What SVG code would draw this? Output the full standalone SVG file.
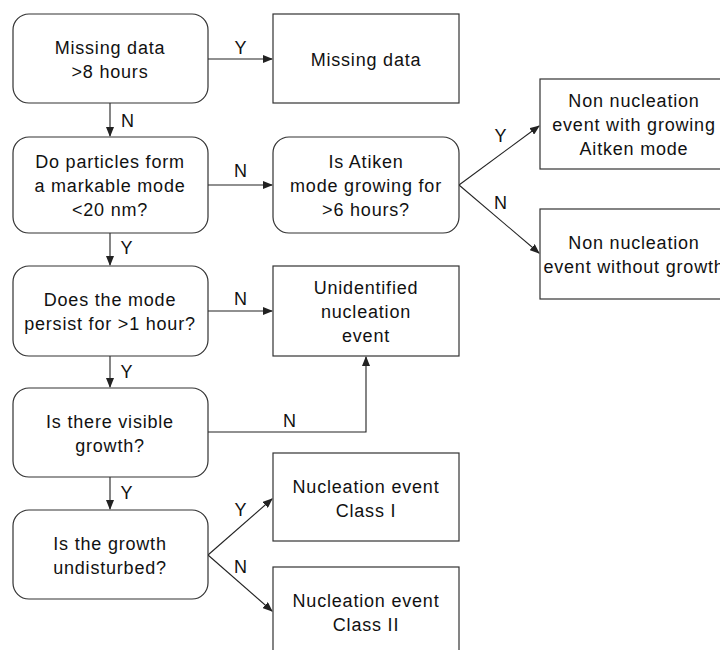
<svg xmlns="http://www.w3.org/2000/svg" width="720" height="650" viewBox="0 0 720 650">
<style>
.box{fill:#fff;stroke:#333;stroke-width:1.2}
.t{font-family:"Liberation Sans",Arial,sans-serif;font-size:18px;letter-spacing:0.8px;fill:#111;text-anchor:middle}
.c{fill:none;stroke:#222;stroke-width:1.1}
</style>
<defs>
<marker id="ah" markerUnits="userSpaceOnUse" markerWidth="10" markerHeight="8" refX="9" refY="4" orient="auto">
<path d="M0,0 L10,4 L0,8 Z" fill="#222"/>
</marker>
</defs>
<rect width="720" height="650" fill="#fff"/>
<g id="connectors">
<path class="c" d="M208,59 H272" marker-end="url(#ah)"/>
<path class="c" d="M110,103 V136" marker-end="url(#ah)"/>
<path class="c" d="M208,185 H272" marker-end="url(#ah)"/>
<path class="c" d="M459,185 L539,126" marker-end="url(#ah)"/>
<path class="c" d="M459,185 L539,253" marker-end="url(#ah)"/>
<path class="c" d="M110,233 V265" marker-end="url(#ah)"/>
<path class="c" d="M208,311 H272" marker-end="url(#ah)"/>
<path class="c" d="M110,356 V387" marker-end="url(#ah)"/>
<path class="c" d="M208,432 H366 V357" marker-end="url(#ah)"/>
<path class="c" d="M110,477 V509" marker-end="url(#ah)"/>
<path class="c" d="M208,555 L272,499" marker-end="url(#ah)"/>
<path class="c" d="M208,555 L272,611" marker-end="url(#ah)"/>
<text class="t" x="241" y="54">Y</text>
<text class="t" x="128" y="127">N</text>
<text class="t" x="241" y="177">N</text>
<text class="t" x="501" y="142">Y</text>
<text class="t" x="501" y="209">N</text>
<text class="t" x="127" y="254">Y</text>
<text class="t" x="241" y="305">N</text>
<text class="t" x="127" y="378">Y</text>
<text class="t" x="290" y="427">N</text>
<text class="t" x="127" y="499">Y</text>
<text class="t" x="241" y="516">Y</text>
<text class="t" x="241" y="573">N</text>
</g>
<g id="n1">
<rect class="box" x="13" y="14" width="195" height="89" rx="16"/>
<text class="t" x="110" y="54">Missing data</text>
<text class="t" x="110" y="78">&gt;8 hours</text>
</g>
<g id="n2">
<rect class="box" x="273" y="14" width="186" height="89"/>
<text class="t" x="366" y="66">Missing data</text>
</g>
<g id="n3">
<rect class="box" x="13" y="137" width="195" height="96" rx="16"/>
<text class="t" x="110" y="168">Do particles form</text>
<text class="t" x="110" y="192">a markable mode</text>
<text class="t" x="110" y="216">&lt;20 nm?</text>
</g>
<g id="n4">
<rect class="box" x="273" y="137" width="186" height="96" rx="16"/>
<text class="t" x="366" y="168">Is Atiken</text>
<text class="t" x="366" y="192">mode growing for</text>
<text class="t" x="366" y="216">&gt;6 hours?</text>
</g>
<g id="n5">
<rect class="box" x="540" y="79" width="190" height="90"/>
<text class="t" x="634" y="107">Non nucleation</text>
<text class="t" x="634" y="131">event with growing</text>
<text class="t" x="634" y="155">Aitken mode</text>
</g>
<g id="n6">
<rect class="box" x="540" y="209" width="190" height="90"/>
<text class="t" x="634" y="249">Non nucleation</text>
<text class="t" x="634" y="273">event without growth</text>
</g>
<g id="n7">
<rect class="box" x="13" y="266" width="195" height="90" rx="16"/>
<text class="t" x="110" y="306">Does the mode</text>
<text class="t" x="110" y="330">persist for &gt;1 hour?</text>
</g>
<g id="n8">
<rect class="box" x="273" y="266" width="186" height="90"/>
<text class="t" x="366" y="294">Unidentified</text>
<text class="t" x="366" y="318">nucleation</text>
<text class="t" x="366" y="342">event</text>
</g>
<g id="n9">
<rect class="box" x="13" y="388" width="195" height="89" rx="16"/>
<text class="t" x="110" y="428">Is there visible</text>
<text class="t" x="110" y="452">growth?</text>
</g>
<g id="n10">
<rect class="box" x="13" y="510" width="195" height="89" rx="16"/>
<text class="t" x="110" y="550">Is the growth</text>
<text class="t" x="110" y="574">undisturbed?</text>
</g>
<g id="n11">
<rect class="box" x="273" y="453" width="186" height="88"/>
<text class="t" x="366" y="493">Nucleation event</text>
<text class="t" x="366" y="517">Class I</text>
</g>
<g id="n12">
<rect class="box" x="273" y="567" width="186" height="92"/>
<text class="t" x="366" y="607">Nucleation event</text>
<text class="t" x="366" y="631">Class II</text>
</g>
</svg>
